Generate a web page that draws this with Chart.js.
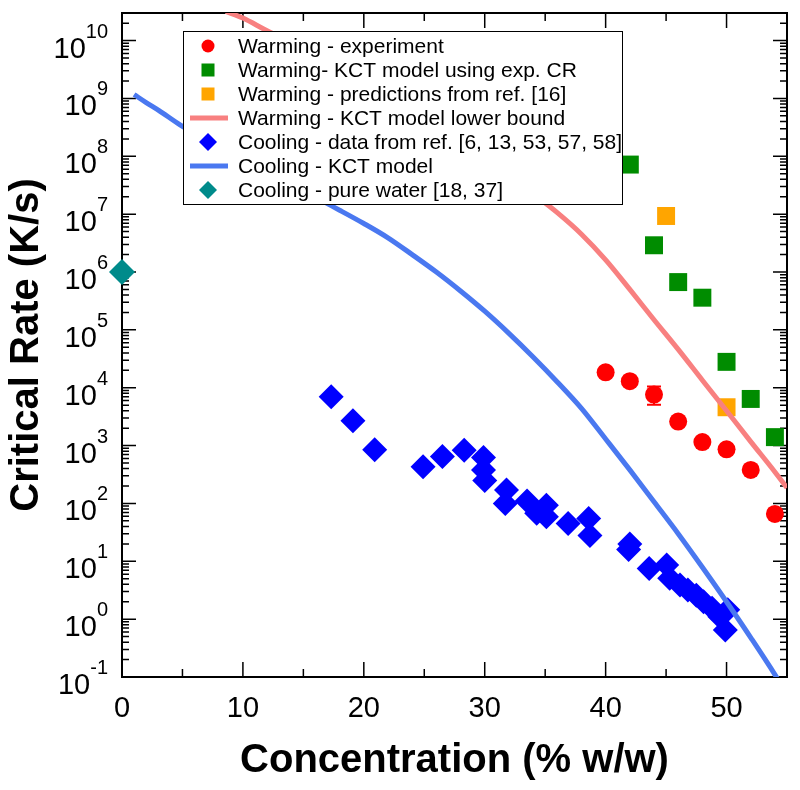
<!DOCTYPE html>
<html>
<head>
<meta charset="utf-8">
<script src="https://cdn.jsdelivr.net/npm/chart.js@4.4.1/dist/chart.umd.min.js"></script>
<style>
  html, body { margin: 0; padding: 0; background: #fff; }
</style>
</head>
<body>
<canvas id="chart" width="800" height="790"></canvas>
<script>
// values: concentration (% w/w) vs critical rate (K/s)
const expConc = [40, 42, 44, 46, 48, 50, 52, 54];
const expRate = [1.85e4, 1.3e4, 7.6e3, 2.6e3, 1.15e3, 8.6e2, 3.8e2, 66];
const expLow = [null, null, 5.1e3, null, null, null, null, null];
const expHigh = [null, null, 1.05e4, null, null, null, null, null];

const kctConc = [42, 44, 46, 48, 50, 52, 54];
const kctRate = [7.2e7, 2.9e6, 6.7e5, 3.6e5, 2.8e4, 6.4e3, 1.4e3];

const predConc = [45, 50];
const predRate = [9.3e6, 4.6e3];

const warmLineConc = [8.6, 10, 12, 14, 16, 18, 20, 22, 24, 26, 28, 30, 32, 34, 36, 38, 40, 42, 44, 46, 48, 50, 52, 54, 55];
const warmLineRate = [3.2e10, 2.45e10, 1.48e10, 9.4e9, 5.8e9, 3.5e9, 2.06e9, 1.17e9, 6.5e8, 3.5e8, 1.85e8, 9.4e7, 4.7e7,
  2.26e7, 1.06e7, 4.5e6, 1.62e6, 5.0e5, 1.5e5, 4.6e4, 1.35e4, 4.0e3, 1.17e3, 3.5e2, 1.86e2];

const coolConc = [17.3, 19.1, 20.9, 24.9, 26.5, 28.3, 29.9, 29.9, 30.0, 31.8, 31.7, 33.5, 34.3, 35.1, 35.1, 36.9, 38.6, 38.7,
  42.0, 41.9, 43.6, 45.05, 45.3, 46.15, 46.8, 47.5, 48.1, 48.8, 49.45, 50.1, 49.9];
const coolRate = [7.0e3, 2.7e3, 8.5e2, 4.3e2, 6.5e2, 8.3e2, 6.2e2, 3.8e2, 2.5e2, 1.7e2, 1.0e2, 1.1e2, 68, 93, 59, 45, 55, 28,
  20, 16, 7.5, 8.6, 5.1, 3.9, 3.2, 2.6, 2.0, 1.55, 1.1, 1.45, 0.65];

const coolLineConc = [1.0, 2, 3, 4.8, 7, 10, 13, 16, 18, 20, 22, 24, 26, 28, 30, 32, 34, 36, 38, 40, 42, 44, 46, 48, 50, 52, 54, 55];
const coolLineRate = [1.17e9, 8.5e8, 6.3e8, 3.5e8, 1.9e8, 8.5e7, 4.0e7, 1.95e7, 1.17e7, 6.9e6, 3.9e6, 2.0e6, 1.0e6, 4.7e5,
  2.1e5, 8.7e4, 3.4e4, 1.26e4, 4.4e3, 1.3e3, 3.8e2, 1.07e2, 30, 7.9, 2.0, 0.48, 0.11, 0.05];

const waterConc = [0];
const waterRate = [1e6];

const xTicks = [0, 10, 20, 30, 40, 50];
const yExponents = [-1, 0, 1, 2, 3, 4, 5, 6, 7, 8, 9, 10];

const legendItems = [
  { text: 'Warming - experiment', kind: 'circle', color: '#ff0000' },
  { text: 'Warming- KCT model using exp. CR', kind: 'square', color: '#008c00' },
  { text: 'Warming - predictions from ref. [16]', kind: 'square', color: '#ffa500' },
  { text: 'Warming - KCT model lower bound', kind: 'line', color: '#f88080' },
  { text: 'Cooling - data from ref. [6, 13, 53, 57, 58]', kind: 'diamond', color: '#0000ff' },
  { text: 'Cooling - KCT model', kind: 'line', color: '#4a78f0' },
  { text: 'Cooling - pure water [18, 37]', kind: 'diamond', color: '#008b8b' }
];

const FONT = '"Liberation Sans", Arial, sans-serif';

const pts = (xs, ys) => xs.map((x, i) => ({ x: x, y: ys[i] }));

// frame, inward ticks, tick labels and axis titles
const axesPlugin = {
  id: 'axesPlugin',
  beforeDatasetsDraw(chart) {
    const { ctx, chartArea: a, scales: { x, y } } = chart;
    ctx.save();
    ctx.strokeStyle = '#000';
    ctx.lineWidth = 1.5;
    ctx.beginPath();
    for (let v = 0; v <= 55; v += 5) {
      const px = x.getPixelForValue(v);
      const len = v % 10 === 0 ? 15 : 8;
      ctx.moveTo(px, a.bottom); ctx.lineTo(px, a.bottom - len);
      ctx.moveTo(px, a.top); ctx.lineTo(px, a.top + len);
    }
    yExponents.forEach((e) => {
      for (let m = 1; m <= 9; m++) {
        const v = m * Math.pow(10, e);
        if (v > y.max) break;
        const py = y.getPixelForValue(v);
        const len = m === 1 ? 14 : 7;
        ctx.moveTo(a.left, py); ctx.lineTo(a.left + len, py);
        ctx.moveTo(a.right, py); ctx.lineTo(a.right - len, py);
      }
    });
    ctx.stroke();
    ctx.lineWidth = 2;
    ctx.strokeRect(a.left, a.top, a.right - a.left, a.bottom - a.top);

    ctx.fillStyle = '#000';
    ctx.font = '29px ' + FONT;
    ctx.textAlign = 'center';
    ctx.textBaseline = 'alphabetic';
    xTicks.forEach((v) => {
      ctx.fillText(String(v), x.getPixelForValue(v), a.bottom + 40);
    });

    yExponents.forEach((e) => {
      const py = y.getPixelForValue(Math.pow(10, e));
      const sup = String(e);
      ctx.font = '20px ' + FONT;
      const supW = ctx.measureText(sup).width;
      const right = a.left - 14;
      ctx.textAlign = 'left';
      ctx.fillText(sup, right - supW, py - 3);
      ctx.font = '29px ' + FONT;
      ctx.textAlign = 'right';
      ctx.fillText('10', right - supW, py + 17);
    });

    ctx.font = 'bold 40px ' + FONT;
    ctx.textAlign = 'center';
    ctx.fillText('Concentration (% w/w)', (a.left + a.right) / 2, 772);
    ctx.translate(38, (a.top + a.bottom) / 2);
    ctx.rotate(-Math.PI / 2);
    ctx.fillText('Critical Rate (K/s)', 0, 0);
    ctx.restore();
  },
  afterDatasetsDraw(chart) {
    const { ctx, scales: { x, y } } = chart;
    ctx.save();
    // error bar on the experimental point
    ctx.strokeStyle = '#ff0000';
    ctx.lineWidth = 2;
    expConc.forEach((c, i) => {
      if (expLow[i] == null) return;
      const px = x.getPixelForValue(c);
      const lo = y.getPixelForValue(expLow[i]);
      const hi = y.getPixelForValue(expHigh[i]);
      ctx.beginPath();
      ctx.moveTo(px, lo); ctx.lineTo(px, hi);
      ctx.moveTo(px - 7, lo); ctx.lineTo(px + 7, lo);
      ctx.moveTo(px - 7, hi); ctx.lineTo(px + 7, hi);
      ctx.stroke();
    });

    // legend box inside the plot
    const bx = 183, by = 31, bw = 439, bh = 173;
    ctx.fillStyle = '#fff';
    ctx.fillRect(bx, by, bw, bh);
    ctx.strokeStyle = '#000';
    ctx.lineWidth = 1;
    ctx.strokeRect(bx + 0.5, by + 0.5, bw, bh);
    ctx.font = '21px ' + FONT;
    ctx.textAlign = 'left';
    ctx.textBaseline = 'middle';
    legendItems.forEach((it, i) => {
      const cy = 46 + i * 24;
      const cx = 208;
      ctx.fillStyle = it.color;
      ctx.strokeStyle = it.color;
      ctx.beginPath();
      if (it.kind === 'circle') {
        ctx.arc(cx, cy, 6.5, 0, Math.PI * 2);
        ctx.fill();
      } else if (it.kind === 'square') {
        ctx.fillRect(cx - 6.5, cy - 6.5, 13, 13);
      } else if (it.kind === 'diamond') {
        ctx.moveTo(cx - 9, cy); ctx.lineTo(cx, cy - 9);
        ctx.lineTo(cx + 9, cy); ctx.lineTo(cx, cy + 9);
        ctx.closePath();
        ctx.fill();
      } else {
        ctx.lineWidth = 5;
        ctx.moveTo(190, cy); ctx.lineTo(228, cy);
        ctx.stroke();
      }
      ctx.fillStyle = '#000';
      ctx.fillText(it.text, 238, cy + 1);
    });
    ctx.restore();
  }
};

new Chart(document.getElementById('chart'), {
  type: 'scatter',
  data: {
    datasets: [
      { label: 'Warming - KCT model lower bound', type: 'line', data: pts(warmLineConc, warmLineRate),
        borderColor: '#f88080', borderWidth: 5, pointRadius: 0, cubicInterpolationMode: 'monotone', clip: 0, order: 0 },
      { label: 'Cooling - KCT model', type: 'line', data: pts(coolLineConc, coolLineRate),
        borderColor: '#4a78f0', borderWidth: 5, pointRadius: 0, cubicInterpolationMode: 'monotone', clip: 0, order: 0 },
      { label: 'Warming - experiment', data: pts(expConc, expRate), pointStyle: 'circle', pointRadius: 9,
        backgroundColor: '#ff0000', borderWidth: 0, clip: false, order: 1 },
      { label: 'Warming- KCT model using exp. CR', data: pts(kctConc, kctRate), pointStyle: 'rect', pointRadius: 12.7,
        backgroundColor: '#008c00', borderWidth: 0, clip: false, order: 1 },
      { label: 'Warming - predictions from ref. [16]', data: pts(predConc, predRate), pointStyle: 'rect', pointRadius: 12.7,
        backgroundColor: '#ffa500', borderWidth: 0, clip: false, order: 1 },
      { label: 'Cooling - data from ref. [6, 13, 53, 57, 58]', data: pts(coolConc, coolRate), pointStyle: 'rectRot', pointRadius: 12.5,
        backgroundColor: '#0000ff', borderWidth: 0, clip: false, order: 2 },
      { label: 'Cooling - pure water [18, 37]', data: pts(waterConc, waterRate), pointStyle: 'rectRot', pointRadius: 13,
        backgroundColor: '#008b8b', borderWidth: 0, clip: false, order: 1 }
    ]
  },
  options: {
    responsive: false,
    animation: false,
    devicePixelRatio: 1,
    layout: { padding: { left: 122, right: 11, top: 11, bottom: 113 } },
    plugins: { legend: { display: false }, tooltip: { enabled: false } },
    scales: {
      x: { type: 'linear', min: 0, max: 55, display: false },
      y: { type: 'logarithmic', min: 0.1, max: 3e10, display: false }
    }
  },
  plugins: [axesPlugin]
});
</script>
</body>
</html>
